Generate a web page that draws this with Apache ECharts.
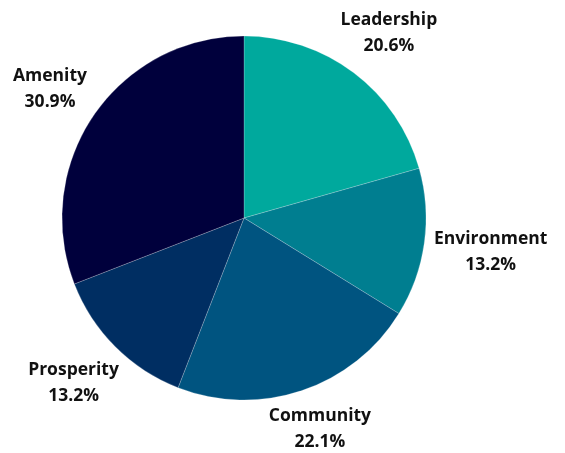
<!DOCTYPE html>
<html>
<head>
<meta charset="utf-8">
<script src="https://cdn.jsdelivr.net/npm/echarts@6/dist/echarts.min.js"></script>
<style>
  html, body { margin: 0; padding: 0; background: #fff; }
  #chart { width: 565px; height: 453px; }
</style>
</head>
<body>
<div id="chart"></div>
<script>
  // data
  var categories = ['Leadership', 'Environment', 'Community', 'Prosperity', 'Amenity']
  var shares = [20.6, 13.2, 22.1, 13.2, 30.9]
  var colors = ['#00a99d', '#007e90', '#005480', '#002e62', '#00003c']
  var labelGap = [50, 62, 41, 52, 47]

  var pieData = categories.map(function (name, i) {
    return {
      name: name,
      value: shares[i],
      itemStyle: { color: colors[i] },
      labelLine: { show: false, length: labelGap[i], length2: 0 }
    }
  })

  var myChart = echarts.init(document.getElementById('chart'))
  var option = {
    backgroundColor: '#ffffff',
    animation: false,
    series: [{
      type: 'pie',
      center: [244, 218],
      radius: 182,
      startAngle: 90,
      clockwise: true,
      avoidLabelOverlap: false,
      itemStyle: {
        borderColor: 'rgba(255,255,255,0.35)',
        borderWidth: 0.6
      },
      label: {
        show: true,
        position: 'outside',
        formatter: function (p) {
          return p.name + '\n' + p.value.toFixed(1) + '%'
        },
        fontFamily: 'Open Sans',
        fontWeight: 'bold',
        fontSize: 17.5,
        lineHeight: 26,
        color: '#111111'
      },
      labelLine: { show: false },
      labelLayout: function () {
        return { align: 'center', verticalAlign: 'middle' }
      },
      data: pieData
    }]
  }
  myChart.setOption(option)
</script>
</body>
</html>
